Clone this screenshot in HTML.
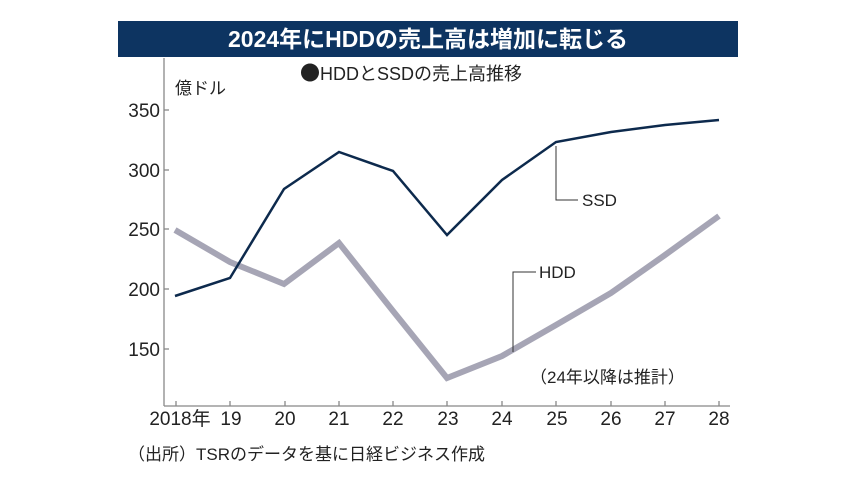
<!DOCTYPE html>
<html><head><meta charset="utf-8"><style>
body{margin:0;background:#fff;}
svg text{font-family:"Liberation Sans","Noto Sans CJK JP",sans-serif;}
</style></head><body>
<svg width="856" height="480" viewBox="0 0 856 480" xmlns="http://www.w3.org/2000/svg">
<rect width="856" height="480" fill="#fff"/>
<rect x="118" y="21" width="620" height="36" fill="#0d3461"/>
<text x="428" y="47" text-anchor="middle" font-size="23" font-weight="bold" fill="#fff">2024年にHDDの売上高は増加に転じる</text>
<text x="175" y="94" font-size="17" fill="#222">億ドル</text>
<text x="300" y="80" font-size="18" fill="#222"><tspan style="font-family:'Noto Sans CJK JP',sans-serif" font-size="20">●</tspan>HDDとSSDの売上高推移</text>
<g stroke="#888" stroke-width="1.3" fill="none">
<line x1="164" y1="58" x2="164" y2="406"/>
<line x1="164" y1="406" x2="730" y2="406"/>
<line x1="164" y1="110" x2="169" y2="110"/>
<line x1="164" y1="170" x2="169" y2="170"/>
<line x1="164" y1="229" x2="169" y2="229"/>
<line x1="164" y1="289" x2="169" y2="289"/>
<line x1="164" y1="349" x2="169" y2="349"/>
<path d="M176 406v-5M230 406v-5M285 406v-5M339 406v-5M393 406v-5M447 406v-5M502 406v-5M556 406v-5M611 406v-5M665 406v-5M719 406v-5"/>
</g>
<g font-size="19" fill="#222" text-anchor="end">
<text x="160" y="117">350</text><text x="160" y="177">300</text><text x="160" y="236">250</text><text x="160" y="296">200</text><text x="160" y="356">150</text>
</g>
<g font-size="19" fill="#222" text-anchor="middle">
<text x="180" y="425">2018年</text><text x="231" y="425">19</text><text x="285" y="425">20</text><text x="339" y="425">21</text><text x="393" y="425">22</text><text x="448" y="425">23</text><text x="502" y="425">24</text><text x="557" y="425">25</text><text x="611" y="425">26</text><text x="665" y="425">27</text><text x="719" y="425">28</text>
</g>
<text x="128" y="460" font-size="17" fill="#222">（出所）TSRのデータを基に日経ビジネス作成</text>
<text x="530" y="383" font-size="17" fill="#222">（24年以降は推計）</text>
<polyline points="175,230 230,262 284,284 339,243 393,311 447,378 502,356 556,325 611,293 665,255 719,216" fill="none" stroke="#a6a5b5" stroke-width="6" stroke-linejoin="miter"/>
<polyline points="175,296 230,278 284,189 339,152 393,171 447,235 502,180 556,142 611,132 665,125 719,120" fill="none" stroke="#0d2a4d" stroke-width="2.5"/>
<path d="M556 146V200H578M513 352V272H536" fill="none" stroke="#333" stroke-width="1"/>
<text x="582" y="206" font-size="17" fill="#222">SSD</text>
<text x="539" y="278" font-size="17" fill="#222">HDD</text>
</svg>
</body></html>
